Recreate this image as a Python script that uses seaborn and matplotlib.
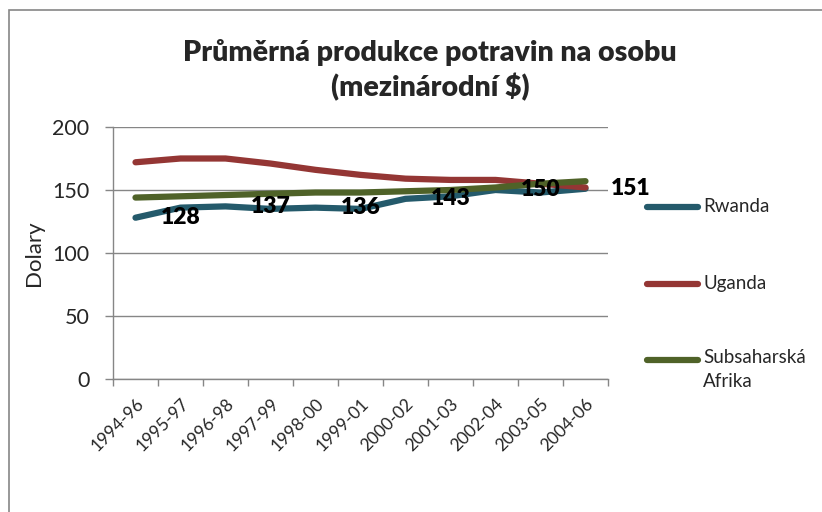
import matplotlib
matplotlib.use("Agg")
import matplotlib.pyplot as plt
import seaborn as sns
import pandas as pd
from matplotlib.lines import Line2D
from matplotlib.patches import Rectangle

periods = ["1994-96", "1995-97", "1996-98", "1997-99", "1998-00", "1999-01",
           "2000-02", "2001-03", "2002-04", "2003-05", "2004-06"]
rwanda = [128, 136, 137, 135, 136, 135, 143, 145, 150, 148, 151]
uganda = [172, 175, 175, 171, 166, 162, 159, 158, 158, 155, 152]
africa = [144, 145, 146, 147, 148, 148, 149, 150, 152, 155, 157]
series_names = ["Rwanda", "Uganda", "Subsaharská\nAfrika"]
colors = ["#245A6B", "#943634", "#4F6228"]
label_idx = [0, 2, 4, 6, 8, 10]

title = "Průměrná produkce potravin na osobu\n(mezinárodní $)"
ylabel = "Dolary"

sns.set_theme(style="white")
plt.rcParams["font.family"] = ["Lato", "DejaVu Sans"]

df = pd.DataFrame({
    "pos": list(range(len(periods))) * 3,
    "value": rwanda + uganda + africa,
    "series": sum([[n] * len(periods) for n in series_names], []),
})

fig = plt.figure(figsize=(8.22, 5.12), dpi=100)
fig.patch.set_facecolor("white")
ax = fig.add_axes([113 / 822, 1 - 379 / 512, (608 - 113) / 822, (379 - 127) / 512])

sns.lineplot(data=df, x="pos", y="value", hue="series", palette=colors,
             hue_order=series_names, linewidth=4.5, legend=False, ax=ax,
             solid_capstyle="round")

for i in label_idx:
    ax.annotate(str(rwanda[i]), (i, rwanda[i]), xytext=(18, 0),
                textcoords="offset points", ha="left", va="center",
                fontsize=16.5, fontweight="heavy", color="black")

ax.set_xlim(-0.5, len(periods) - 0.5)
ax.set_ylim(0, 200)
ax.set_yticks([0, 50, 100, 150, 200])
ax.yaxis.grid(True, color="#868686", linewidth=1)
ax.set_axisbelow(True)
ax.set_xticks(range(len(periods)))
ax.set_xticklabels(periods, rotation=45, ha="right", rotation_mode="anchor", fontsize=12.5)
ax.set_xticks([i - 0.5 for i in range(len(periods) + 1)], minor=True)
ax.tick_params(axis="x", which="major", length=0, pad=12)
ax.tick_params(axis="x", which="minor", length=5, color="#868686", width=1, direction="out", bottom=True)
ax.tick_params(axis="y", length=6, color="#868686", width=1, direction="out", left=True,
               labelsize=15.5, pad=11)
for s in ["top", "right"]:
    ax.spines[s].set_visible(False)
for s in ["left", "bottom"]:
    ax.spines[s].set_color("#868686")
    ax.spines[s].set_linewidth(1)
ax.set_xlabel("")
ax.set_ylabel(ylabel, fontsize=16, labelpad=6)

fig.text(430 / 822, 1 - 70 / 512, title, ha="center", va="center",
         fontsize=20.5, fontweight="heavy", linespacing=1.3)

# legend
leg_y = [207, 284, 360]
for name, c, y in zip(series_names, colors, leg_y):
    fig.add_artist(Line2D([647 / 822, 698 / 822], [1 - y / 512, 1 - y / 512],
                          color=c, linewidth=4.5, solid_capstyle="round"))
    if "\n" in name:
        fig.text(703 / 822, 1 - (y - 11) / 512, name, ha="left", va="top",
                 fontsize=13.5, linespacing=1.5)
    else:
        fig.text(703 / 822, 1 - y / 512, name, ha="left", va="center", fontsize=13.5)

fig.add_artist(Rectangle((9 / 822, -0.1), 1.2, 1 - 10 / 512 + 0.1, fill=False,
                         edgecolor="#868686", linewidth=1.2, transform=fig.transFigure))

fig.savefig("out.png", dpi=100)
